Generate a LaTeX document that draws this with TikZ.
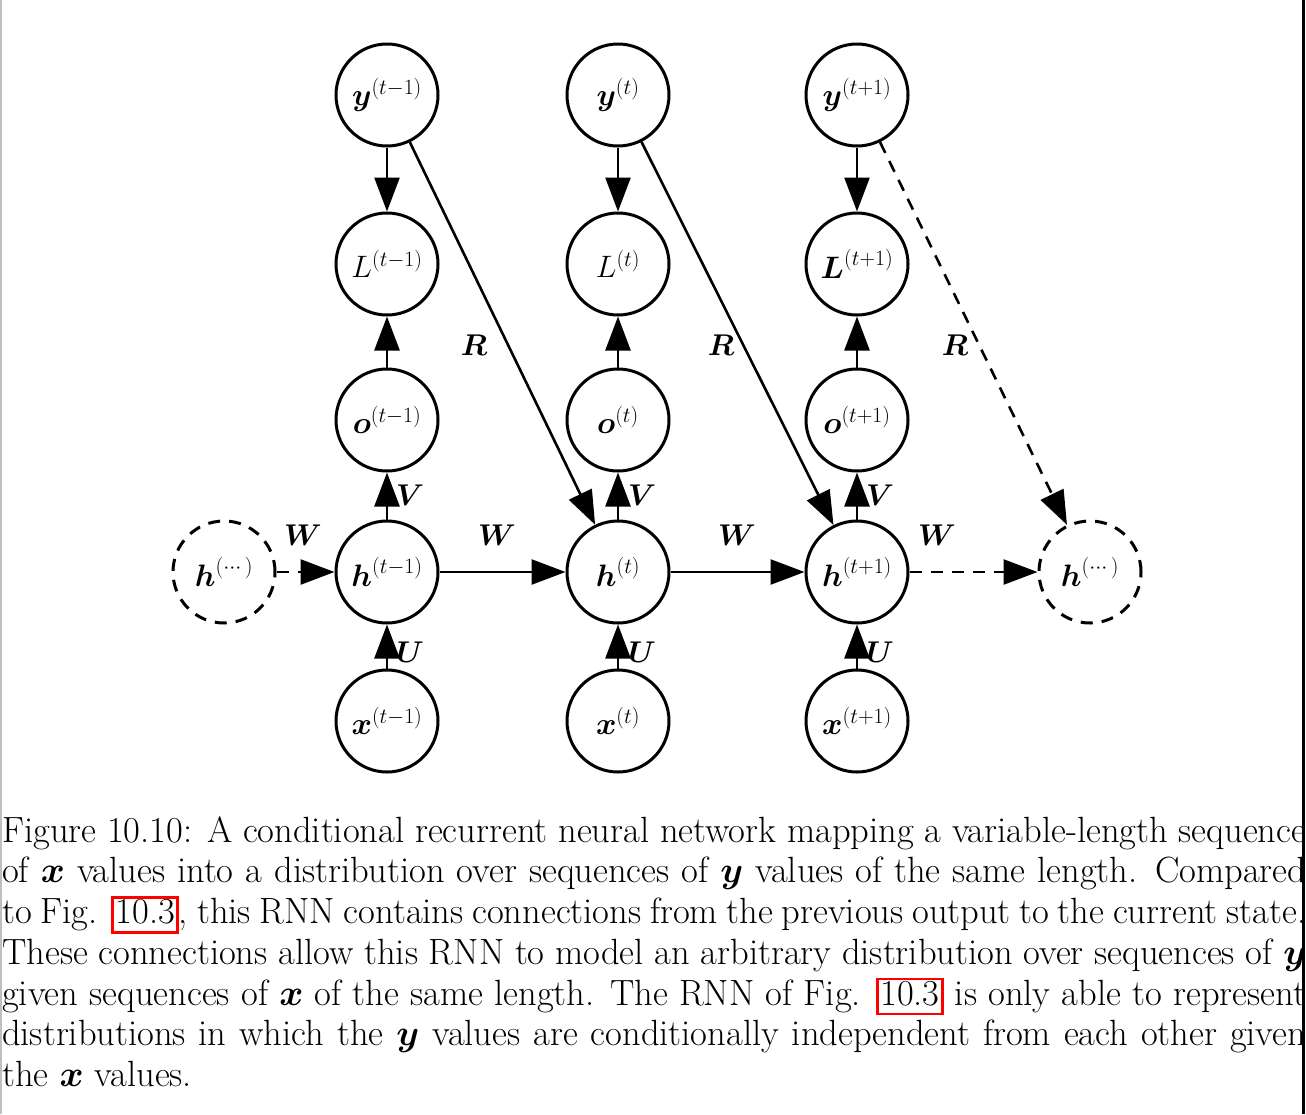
\RequirePackage{fix-cm}
\documentclass[tikz,border=0pt]{standalone}
\usepackage{amsmath}
\usetikzlibrary{arrows.meta}
\newcommand\nodefont{\fontsize{31}{37}\selectfont}
\newcommand\labfont{\fontsize{30}{36}\selectfont}
\newcommand\capfont{\fontsize{36.5}{41}\selectfont}
\newcommand\lnk[1]{{\setlength\fboxsep{0.5pt}\setlength\fboxrule{2.5pt}\fcolorbox{red}{white}{\hspace{1pt}\rule[-7pt]{0pt}{28pt}#1\hspace{1pt}}}}
\newcommand\capline[1]{\makebox[1304pt][s]{#1}}
\begin{document}
\begin{tikzpicture}[x=1pt,y=-1pt,
  var/.style={circle, draw, line width=3pt, minimum size=102pt, inner sep=0pt, font=\nodefont},
  dvar/.style={var, dash pattern=on 12pt off 9pt},
  arr/.style={line width=2.6pt, -{Triangle[length=34pt,width=25pt]}},
  darr/.style={arr, dash pattern=on 12pt off 9pt},
  lab/.style={font=\labfont, inner sep=0pt},
  captext/.style={anchor=base west, inner sep=0pt, font=\capfont}]
\useasboundingbox (0,0) rectangle (1306,1114);
% nodes
\foreach \c/\x/\s in {1/387/{t-1},2/618/{t},3/857/{t+1}}{
  \node[var] (y\c) at (\x,95) {$\boldsymbol{y}^{(\s)}$};
  \node[var] (o\c) at (\x,420) {$\boldsymbol{o}^{(\s)}$};
  \node[var] (h\c) at (\x,572) {$\boldsymbol{h}^{(\s)}$};
  \node[var] (x\c) at (\x,721) {$\boldsymbol{x}^{(\s)}$};
}
\node[var] (L1) at (387,264) {$L^{(t-1)}$};
\node[var] (L2) at (618,264) {$L^{(t)}$};
\node[var] (L3) at (857,264) {$\boldsymbol{L}^{(t+1)}$};
\node[dvar] (hl) at (224,572) {$\boldsymbol{h}^{(\cdots)}$};
\node[dvar] (hr) at (1090,572) {$\boldsymbol{h}^{(\cdots)}$};
% edges
\foreach \c in {1,2,3}{
  \draw[arr] (y\c) -- (L\c);
  \draw[arr] (o\c) -- (L\c);
  \draw[arr] (h\c) -- (o\c);
  \draw[arr] (x\c) -- (h\c);
}
\draw[darr] (hl) -- (h1);
\draw[arr] (h1) -- (h2);
\draw[arr] (h2) -- (h3);
\draw[darr] (h3) -- (hr);
\draw[arr] (y1) -- (h2);
\draw[arr] (y2) -- (h3);
\draw[darr] (y3) -- (hr);
% edge labels
\node[lab] (W0) at (303,535) {$\boldsymbol{W}$};
\node[lab] (W1) at (497,535) {$\boldsymbol{W}$};
\node[lab] (W2) at (737,535) {$\boldsymbol{W}$};
\node[lab] (W3) at (937,535) {$\boldsymbol{W}$};
\node[lab] (V1) at (410,495) {$\boldsymbol{V}$};
\node[lab] (V2) at (642,495) {$\boldsymbol{V}$};
\node[lab] (V3) at (880,495) {$\boldsymbol{V}$};
\node[lab] (U1) at (410,652) {$\boldsymbol{U}$};
\node[lab] (U2) at (642,652) {$\boldsymbol{U}$};
\node[lab] (U3) at (880,652) {$\boldsymbol{U}$};
\node[lab] (R1) at (474,345) {$\boldsymbol{R}$};
\node[lab] (R2) at (721,345) {$\boldsymbol{R}$};
\node[lab] (R3) at (955,345) {$\boldsymbol{R}$};
% caption
\node[captext] (cap1) at (2,842) {\capline{Figure 10.10: A conditional recurrent neural network mapping a variable-length sequence}};
\node[captext] (cap2) at (2,882.75) {\capline{of $\boldsymbol{x}$ values into a distribution over sequences of $\boldsymbol{y}$ values of the same length. Compared}};
\node[captext] (cap3) at (2,923.5) {\capline{to Fig. \lnk{10.3}, this RNN contains connections from the previous output to the current state.}};
\node[captext] (cap4) at (2,964.25) {\capline{These connections allow this RNN to model an arbitrary distribution over sequences of $\boldsymbol{y}$}};
\node[captext] (cap5) at (2,1005) {\capline{given sequences of $\boldsymbol{x}$ of the same length. The RNN of Fig. \lnk{10.3} is only able to represent}};
\node[captext] (cap6) at (2,1045.75) {\capline{distributions in which the $\boldsymbol{y}$ values are conditionally independent from each other given}};
\node[captext] (cap7) at (2,1086.5) {the $\boldsymbol{x}$ values.};
% page borders
\draw[line width=1.5pt, black!25] (0.75,0) -- (0.75,1114);
\draw[line width=3pt, black] (1303.5,0) -- (1303.5,1114);
\end{tikzpicture}
\end{document}
